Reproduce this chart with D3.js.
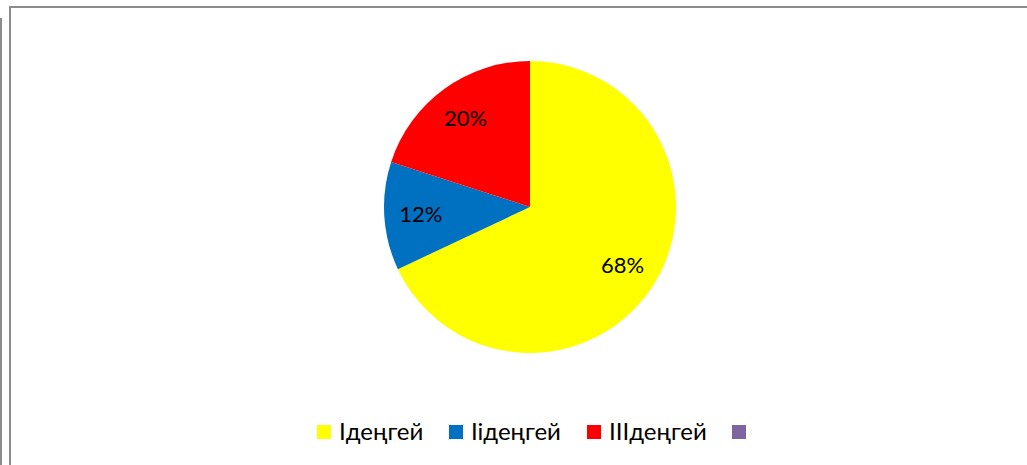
<!DOCTYPE html>
<html><head><meta charset="utf-8">
<script src="https://cdn.jsdelivr.net/npm/d3@7"></script>
<style>body{margin:0;background:#fff;}svg{display:block;}</style>
</head><body>
<script>
const categories = ["Iдеңгей", "Iiдеңгей", "IIIдеңгей", ""];
const values = [68, 12, 20, 0];
const labels = ["68%", "12%", "20%", ""];
const colors = ["#FFFF00", "#0070C0", "#FF0000", "#8064A2"];

const W = 1027, H = 465;
const svg = d3.select("body").append("svg").attr("width", W).attr("height", H);

// frame lines
svg.append("line").attr("x1", 1).attr("y1", 18).attr("x2", 1).attr("y2", H).attr("stroke", "#8c8c8c").attr("stroke-width", 2);
svg.append("line").attr("x1", 10).attr("y1", 6).attr("x2", 10).attr("y2", H).attr("stroke", "#8c8c8c").attr("stroke-width", 2);
svg.append("line").attr("x1", 9).attr("y1", 7).attr("x2", W).attr("y2", 7).attr("stroke", "#8c8c8c").attr("stroke-width", 2);

const cx = 530, cy = 207, R = 146;
const pie = d3.pie().sort(null).value(d => d);
const arcs = pie(values);
const arc = d3.arc().innerRadius(0).outerRadius(R);
const labelArc = d3.arc().innerRadius(R * 0.75).outerRadius(R * 0.75);

const g = svg.append("g").attr("transform", `translate(${cx},${cy})`);
g.selectAll("path").data(arcs).join("path")
  .attr("d", arc).attr("fill", (d, i) => colors[i]);

g.selectAll("text").data(arcs.filter(d => d.value > 0)).join("text")
  .attr("transform", d => `translate(${labelArc.centroid(d)})`)
  .attr("text-anchor", "middle").attr("dy", "0.35em")
  .style("font-family", "Lato, sans-serif").style("font-size", "22px")
  .attr("fill", "#000")
  .text(d => labels[d.index]);

// legend
const legendX = [317, 449, 587, 732];
const lg = svg.append("g");
categories.forEach((c, i) => {
  lg.append("rect").attr("x", legendX[i]).attr("y", 425).attr("width", 14).attr("height", 14).attr("fill", colors[i]);
  lg.append("text").attr("x", legendX[i] + 22).attr("y", 440)
    .style("font-family", "Lato, sans-serif").style("font-size", "24px").attr("fill", "#000")
    .text(c);
});
</script>
</body></html>
